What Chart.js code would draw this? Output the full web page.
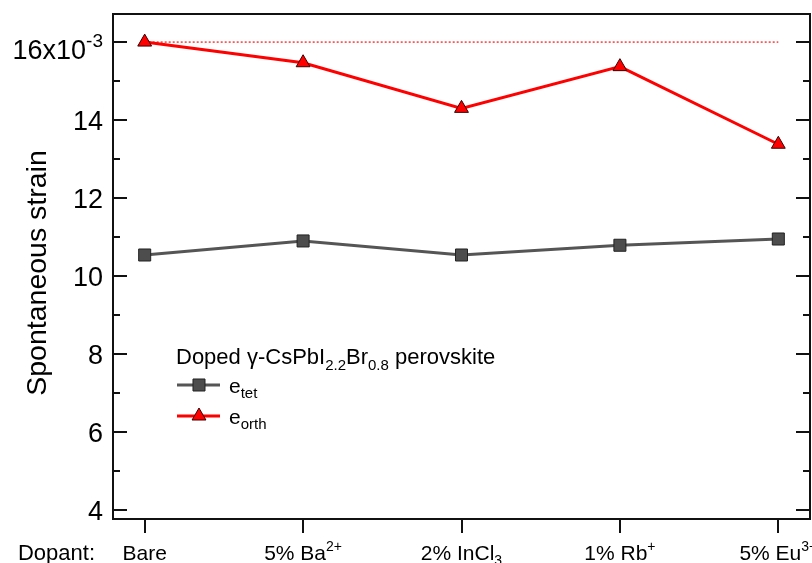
<!DOCTYPE html>
<html>
<head>
<meta charset="utf-8">
<script src="https://cdn.jsdelivr.net/npm/chart.js@4/dist/chart.umd.min.js"></script>
<style>
  html, body { margin: 0; padding: 0; background: #fff; }
  #wrap { width: 812px; height: 563px; }
</style>
</head>
<body>
<div id="wrap"><canvas id="chart" width="812" height="563"></canvas></div>
<script>
// dopants along the x axis (^{..} = superscript, _{..} = subscript)
const dopants = ['Bare', '5% Ba^{2+}', '2% InCl_{3}', '1% Rb^{+}', '5% Eu^{3+}'];

// spontaneous strain, units of 1e-3
const eTet  = [10.54, 10.90, 10.54, 10.79, 10.95];
const eOrth = [16.00, 15.47, 14.30, 15.37, 13.38];

const yTicks = [4, 5, 6, 7, 8, 9, 10, 11, 12, 13, 14, 15, 16];
const yLabels = { 4: '4', 6: '6', 8: '8', 10: '10', 12: '12', 14: '14', 16: '16x10^{-3}' };

const FONT = "'Liberation Sans', Arial, sans-serif";

// split "5% Ba^{2+}" into plain / sup / sub runs
function parseRich(str) {
  const parts = [];
  const re = /([\^_])\{([^}]*)\}/g;
  let last = 0, m;
  while ((m = re.exec(str)) !== null) {
    if (m.index > last) parts.push({ t: str.slice(last, m.index), k: '' });
    parts.push({ t: m[2], k: m[1] === '^' ? 'sup' : 'sub' });
    last = re.lastIndex;
  }
  if (last < str.length) parts.push({ t: str.slice(last), k: '' });
  return parts;
}

function richWidth(ctx, parts, size, small) {
  let w = 0;
  parts.forEach(p => {
    ctx.font = (p.k ? small : size) + 'px ' + FONT;
    w += ctx.measureText(p.t).width;
  });
  return w;
}

function drawRich(ctx, str, x, y, opt) {
  const parts = parseRich(str);
  const size = opt.size, small = opt.small;
  const w = richWidth(ctx, parts, size, small);
  let cx = x;
  if (opt.align === 'center') cx = x - w / 2;
  else if (opt.align === 'right') cx = x - w;
  ctx.textBaseline = 'alphabetic';
  ctx.textAlign = 'left';
  parts.forEach(p => {
    ctx.font = (p.k ? small : size) + 'px ' + FONT;
    let dy = 0;
    if (p.k === 'sup') dy = -opt.raise;
    if (p.k === 'sub') dy = opt.lower;
    ctx.fillText(p.t, cx, y + dy);
    cx += ctx.measureText(p.t).width;
  });
}

// frame, inward y ticks, outward x ticks, labels, legend
const decorations = {
  id: 'decorations',
  afterDraw(chart) {
    const ctx = chart.ctx;
    const a = chart.chartArea;
    const xs = chart.scales.x, ys = chart.scales.y;
    ctx.save();
    ctx.strokeStyle = '#111';
    ctx.fillStyle = '#000';
    ctx.lineWidth = 2;
    ctx.strokeRect(a.left, a.top, a.right - a.left, a.bottom - a.top);

    ctx.beginPath();
    yTicks.forEach(v => {
      const py = Math.round(ys.getPixelForValue(v));
      const len = v % 2 === 0 ? 14 : 7;
      ctx.moveTo(a.left, py); ctx.lineTo(a.left + len, py);
      ctx.moveTo(a.right, py); ctx.lineTo(a.right - len, py);
    });
    dopants.forEach((d, i) => {
      const px = Math.round(xs.getPixelForValue(i));
      ctx.moveTo(px, a.bottom); ctx.lineTo(px, a.bottom + 14);
    });
    ctx.stroke();

    // y tick labels
    Object.keys(yLabels).forEach(k => {
      const v = +k;
      const py = ys.getPixelForValue(v);
      const hasSup = yLabels[k].indexOf('^') >= 0;
      drawRich(ctx, yLabels[k], 103, py + 10 + (hasSup ? 7 : 0),
        { size: 27, small: 19, raise: 12, lower: 6, align: 'right' });
    });

    // x tick labels
    dopants.forEach((d, i) => {
      drawRich(ctx, d, xs.getPixelForValue(i), 560,
        { size: 21, small: 14, raise: 9, lower: 5, align: 'center' });
    });
    drawRich(ctx, 'Dopant:', 95, 560, { size: 22, small: 14, raise: 9, lower: 5, align: 'right' });

    // y axis title
    ctx.save();
    ctx.translate(46, 273);
    ctx.rotate(-Math.PI / 2);
    ctx.font = '28.5px ' + FONT;
    ctx.textAlign = 'center';
    ctx.textBaseline = 'alphabetic';
    ctx.fillText('Spontaneous strain', 0, 0);
    ctx.restore();

    // legend
    drawRich(ctx, 'Doped \u03b3-CsPbI_{2.2}Br_{0.8} perovskite', 176, 364,
      { size: 22, small: 15, raise: 8, lower: 6, align: 'left' });
    const entries = [
      { ds: chart.data.datasets[0], y: 385, label: 'e_{tet}' },
      { ds: chart.data.datasets[1], y: 416, label: 'e_{orth}' }
    ];
    entries.forEach(e => {
      ctx.strokeStyle = e.ds.borderColor;
      ctx.lineWidth = e.ds.borderWidth;
      ctx.beginPath();
      ctx.moveTo(177, e.y); ctx.lineTo(220, e.y);
      ctx.stroke();
      ctx.fillStyle = e.ds.pointBackgroundColor;
      ctx.strokeStyle = e.ds.pointBorderColor;
      ctx.lineWidth = 1;
      Chart.helpers.drawPoint(ctx, {
        pointStyle: e.ds.pointStyle, radius: e.ds.pointRadius, rotation: 0, borderWidth: 1
      }, 199, e.y);
      ctx.fillStyle = '#000';
      drawRich(ctx, e.label, 229, e.y + 8, { size: 21, small: 15, raise: 8, lower: 5, align: 'left' });
    });
    ctx.restore();
  }
};

const xy = arr => arr.map((v, i) => ({ x: i, y: v }));

new Chart(document.getElementById('chart'), {
  type: 'line',
  data: {
    datasets: [
      {
        label: 'e_tet',
        data: xy(eTet),
        borderColor: '#555555',
        borderWidth: 3,
        pointStyle: 'rect',
        pointRadius: 8.5,
        pointBackgroundColor: '#4d4d4d',
        pointBorderColor: '#222222',
        pointBorderWidth: 1,
        tension: 0
      },
      {
        label: 'e_orth',
        data: xy(eOrth),
        borderColor: '#ff0000',
        borderWidth: 3,
        pointStyle: 'triangle',
        pointRadius: 8,
        pointBackgroundColor: '#ff0000',
        pointBorderColor: '#3a0000',
        pointBorderWidth: 1,
        tension: 0
      },
      {
        // reference level of the bare sample
        label: 'bare level',
        data: [{ x: 0, y: eOrth[0] }, { x: dopants.length - 1, y: eOrth[0] }],
        borderColor: 'rgba(255,0,0,0.9)',
        borderWidth: 1.3,
        borderDash: [2, 2],
        pointRadius: 0,
        tension: 0
      }
    ]
  },
  options: {
    responsive: false,
    animation: false,
    layout: { autoPadding: false, padding: { top: 14, right: 2, left: 0, bottom: 0 } },
    plugins: { legend: { display: false }, tooltip: { enabled: false } },
    scales: {
      x: {
        type: 'linear',
        min: -0.2,
        max: 4.2,
        grid: { display: false },
        border: { display: false },
        ticks: { display: false },
        afterBuildTicks: s => { s.ticks = dopants.map((d, i) => ({ value: i })); },
        afterFit: s => { s.height = 44; }
      },
      y: {
        min: 3.77,
        max: 16.72,
        grid: { display: false },
        border: { display: false },
        ticks: { display: false },
        afterBuildTicks: s => { s.ticks = yTicks.map(v => ({ value: v })); },
        afterFit: s => { s.width = 113; }
      }
    }
  },
  plugins: [decorations]
});
</script>
</body>
</html>
